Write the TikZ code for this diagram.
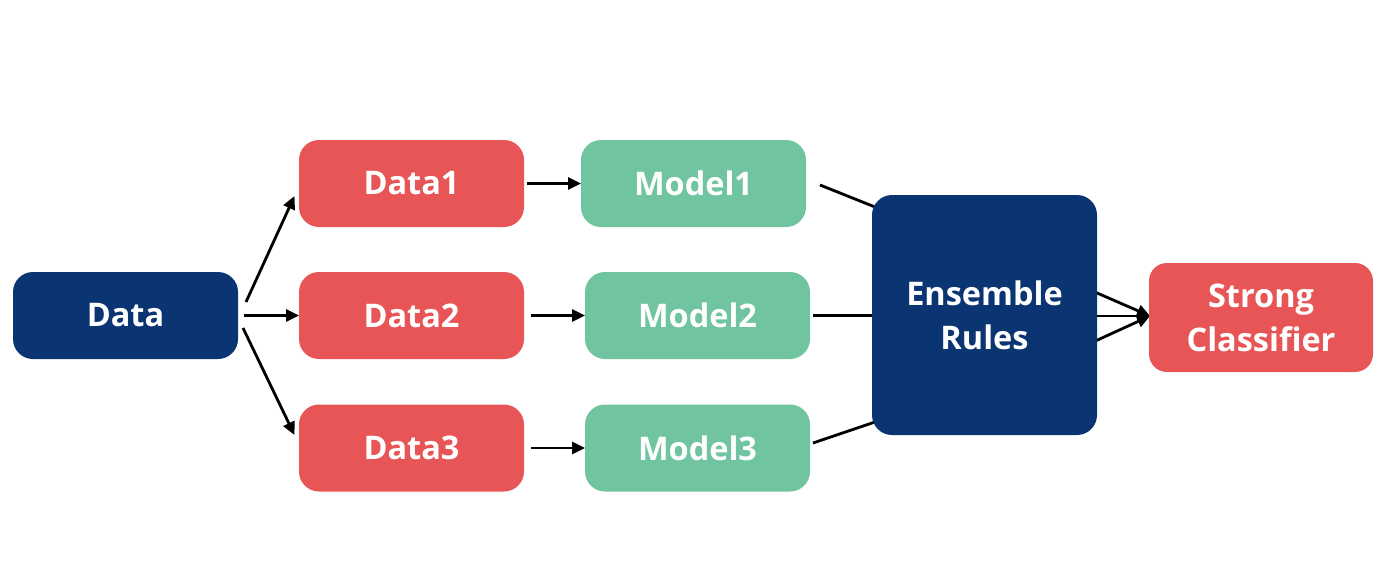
\documentclass[tikz,border=0pt]{standalone}
\usepackage{fontspec}
\setmainfont{Open Sans}
\usetikzlibrary{arrows.meta,backgrounds}
\definecolor{dblue}{HTML}{0A3572}
\definecolor{cred}{HTML}{E85557}
\definecolor{cgreen}{HTML}{70C5A0}
\tikzset{
  box/.style={rounded corners=20pt, minimum width=225pt, minimum height=87pt, inner sep=0pt, text=white, font=\fontsize{32.5}{44}\selectfont\bfseries, align=center},
  bluebox/.style={box, fill=dblue},
  redbox/.style={box, fill=cred},
  greenbox/.style={box, fill=cgreen},
  arr/.style={line width=2.8pt, -{Triangle[length=13pt,width=12pt]}},
  ln/.style={line width=2.8pt},
}
\begin{document}
\begin{tikzpicture}[x=1pt,y=-1pt]
\useasboundingbox (0,0) rectangle (1386,584);
\node[bluebox] (data) at (125.5,315.5) {Data};
\node[redbox] (d1) at (411.5,183.5) {Data1};
\node[redbox] (d2) at (411.5,315.5) {Data2};
\node[redbox] (d3) at (411.5,448) {Data3};
\node[greenbox] (m1) at (693.5,183.5) {Model1};
\node[greenbox] (m2) at (697.5,315.5) {Model2};
\node[greenbox] (m3) at (697.5,448) {Model3};
\node[bluebox, minimum height=240pt] (ens) at (984.5,315) {Ensemble\\Rules};
\node[redbox, minimum width=224pt, minimum height=109pt, rounded corners=18pt] (sc) at (1261,317.5) {Strong\\Classifier};
% free ends
\coordinate (a1s) at (246,302); \coordinate (a1e) at (294.5,196);
\coordinate (a2s) at (244,315.5); \coordinate (a2e) at (299,315.5);
\coordinate (a3s) at (243,328); \coordinate (a3e) at (294.5,435);
\coordinate (b1s) at (527,183.5); \coordinate (b1e) at (581,183.5);
\coordinate (b2s) at (531,315.5); \coordinate (b2e) at (585,315.5);
\coordinate (b3s) at (531,448); \coordinate (b3e) at (585,448);
\coordinate (c1s) at (820,185); \coordinate (c1e) at (900,217);
\coordinate (c2s) at (813,315.5); \coordinate (c2e) at (900,315.5);
\coordinate (c3s) at (813,443); \coordinate (c3e) at (900,413.5);
\coordinate (e1s) at (1080,285.6); \coordinate (e2s) at (1080,316); \coordinate (e3s) at (1080,348);
\coordinate (tip) at (1150,316);
\begin{scope}[on background layer]
\draw[arr] (a1s) -- (a1e);
\draw[arr] (a2s) -- (a2e);
\draw[arr] (a3s) -- (a3e);
\draw[arr] (b1s) -- (b1e);
\draw[arr] (b2s) -- (b2e);
\draw[arr] (b3s) -- (b3e);
\draw[ln] (c1s) -- (c1e);
\draw[ln] (c2s) -- (c2e);
\draw[ln] (c3s) -- (c3e);
\draw[arr] (e1s) -- (tip);
\draw[arr] (e2s) -- (tip);
\draw[arr] (e3s) -- (tip);
\end{scope}
\end{tikzpicture}
\end{document}
